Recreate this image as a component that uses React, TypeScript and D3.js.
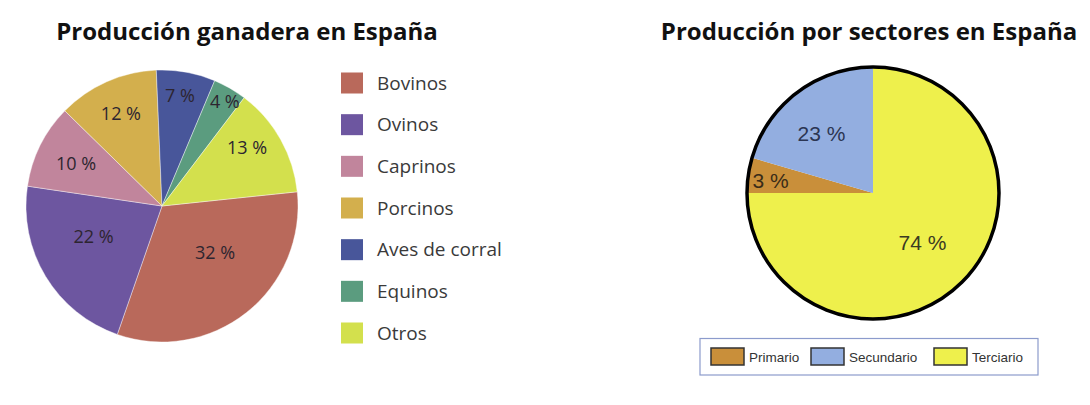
import React from "react";
import * as d3 from "d3";

// ---- Data: left chart (Producción ganadera) ----
const livestockCategories = ["Bovinos", "Ovinos", "Caprinos", "Porcinos", "Aves de corral", "Equinos", "Otros"];
const livestockValues = [32, 22, 10, 12, 7, 4, 13];
const livestockColors = ["#b9695b", "#6d56a0", "#c1859c", "#d3af4d", "#48569a", "#5b9c7f", "#d3e04d"];
// label placement tweaks (radius px, angle offset deg)
const livestockLabelRadius = [71, 75, 96, 101, 112, 122, 103];
const livestockLabelAngleOffset = [-10, 7, 0, 0, -1, 1, -5];

// ---- Data: right chart (Producción por sectores) ----
const sectorCategories = ["Primario", "Secundario", "Terciario"];
const sectorLabels = [3, 23, 74];
// slice shares as drawn in the picture
const sectorShares = [4.5, 20.5, 75];
const sectorColors = ["#c98f3a", "#93aee0", "#eef04c"];

const W = 1090;
const H = 405;
const deg = Math.PI / 180;

function LeftChart() {
  const cx = 162, cy = 206, r = 136;
  const pie = d3.pie<number>().sort(null).value(d => d).startAngle(84 * deg).endAngle(444 * deg);
  const arcs = pie(livestockValues);
  const arc = d3.arc<d3.PieArcDatum<number>>().innerRadius(0).outerRadius(r);
  const legendY = d3.scalePoint<string>().domain(livestockCategories).range([83, 333]);
  return (
    <g>
      <text x={247} y={40} textAnchor="middle" fontFamily="'Open Sans', sans-serif" fontWeight={700} fontSize={24} fill="#111">
        Producción ganadera en España
      </text>
      <g transform={`translate(${cx},${cy})`}>
        {arcs.map((a, i) => (
          <path key={i} d={arc(a) || ""} fill={livestockColors[i]} stroke="#ffffff" strokeOpacity={0.5} strokeWidth={0.8} />
        ))}
        {arcs.map((a, i) => {
          const mid = (a.startAngle + a.endAngle) / 2 + livestockLabelAngleOffset[i] * deg;
          const lr = livestockLabelRadius[i];
          const x = Math.sin(mid) * lr;
          const y = -Math.cos(mid) * lr;
          return (
            <text key={i} x={x} y={y} dy="0.35em" textAnchor="middle" fontFamily="'Open Sans', sans-serif" fontSize={18} fill="#2d2530">
              {livestockValues[i]} %
            </text>
          );
        })}
      </g>
      {livestockCategories.map((c, i) => {
        const y = legendY(c)!;
        return (
          <g key={c}>
            <rect x={341} y={y - 10.5} width={22} height={21} fill={livestockColors[i]} />
            <text x={377} y={y} dy="0.35em" fontFamily="'Open Sans', sans-serif" fontSize={19} fill="#3a3a3a">
              {c}
            </text>
          </g>
        );
      })}
    </g>
  );
}

function RightChart() {
  const cx = 873, cy = 193, r = 126;
  // order: Terciario starts at top going clockwise; then Primario, Secundario
  const order = [2, 0, 1];
  const arcsOrdered = d3.pie<number>().sort(null).value(d => d).startAngle(0).endAngle(2 * Math.PI)(order.map(i => sectorShares[i]));
  const arc = d3.arc<d3.PieArcDatum<number>>().innerRadius(0).outerRadius(r);
  const labelPos: Record<number, [number, number]> = {};
  const labelR = [0.82, 0.625, 0.555];
  const labelAng = [-1, -4, 0];
  arcsOrdered.forEach((a, k) => {
    const i = order[k];
    const mid = (a.startAngle + a.endAngle) / 2 + labelAng[i] * deg;
    labelPos[i] = [Math.sin(mid) * r * labelR[i], -Math.cos(mid) * r * labelR[i]];
  });
  const labelColors = ["#3a2c18", "#2b3552", "#3a3a22"];
  const legendX = [711, 811, 934];
  return (
    <g>
      <text x={869} y={40} textAnchor="middle" fontFamily="'Open Sans', sans-serif" fontWeight={700} fontSize={24} fill="#111">
        Producción por sectores en España
      </text>
      <g transform={`translate(${cx},${cy})`}>
        {arcsOrdered.map((a, k) => (
          <path key={k} d={arc(a) || ""} fill={sectorColors[order[k]]} />
        ))}
        <circle r={r} fill="none" stroke="#000" strokeWidth={3.5} />
        {sectorCategories.map((c, i) => (
          <text key={c} x={labelPos[i][0]} y={labelPos[i][1]} dy="0.35em" textAnchor="middle" fontFamily="'Liberation Sans', Arial, sans-serif" fontSize={21} fill={labelColors[i]}>
            {sectorLabels[i]} %
          </text>
        ))}
      </g>
      <rect x={700} y={338.5} width={338} height={36.5} fill="#fff" stroke="#8c9bcc" strokeWidth={1.2} />
      {sectorCategories.map((c, i) => (
        <g key={c}>
          <rect x={legendX[i]} y={348} width={33} height={17} fill={sectorColors[i]} stroke="#333" strokeWidth={1.5} />
          <text x={legendX[i] + 38} y={357} dy="0.35em" fontFamily="'Liberation Sans', Arial, sans-serif" fontSize={13.5} fill="#333">
            {c}
          </text>
        </g>
      ))}
    </g>
  );
}

export default function App() {
  return (
    <svg width={W} height={H} style={{ position: "absolute", left: 0, top: 0, display: "block", background: "#fff" }}>
      <LeftChart />
      <RightChart />
    </svg>
  );
}
